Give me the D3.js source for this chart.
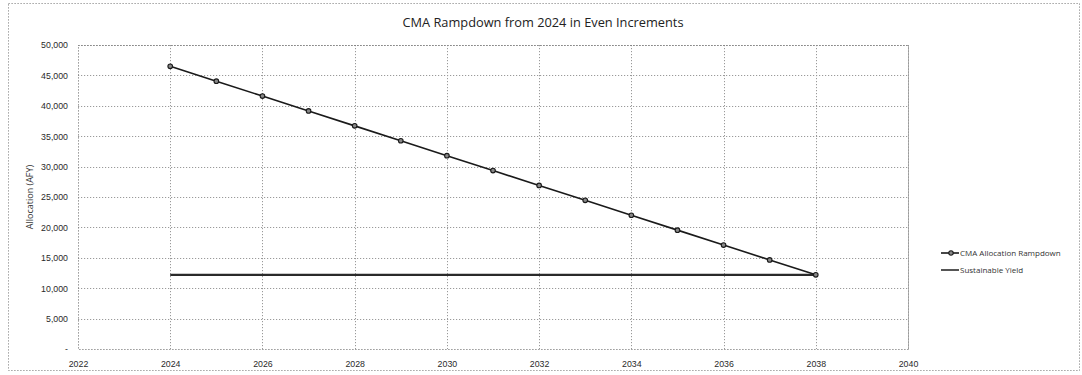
<!DOCTYPE html>
<html>
<head>
<meta charset="utf-8">
<script src="https://cdn.jsdelivr.net/npm/d3@7"></script>
<style>
  html, body { margin: 0; padding: 0; background: #fff; }
  svg { display: block; font-family: "Open Sans", "Liberation Sans", sans-serif; }
</style>
</head>
<body>
<svg id="chart" width="1082" height="375"></svg>
<script>
// Rampdown years and allocations (AFY)
const years = [2024, 2025, 2026, 2027, 2028, 2029, 2030, 2031, 2032, 2033, 2034, 2035, 2036, 2037, 2038];
const rampdown = [46500, 44050, 41600, 39150, 36700, 34250, 31800, 29350, 26900, 24450, 22000, 19550, 17100, 14650, 12200];
// Sustainable yield held flat over the same span
const yieldYears = [2024, 2038];
const sustainableYield = [12200, 12200];

const xTicks = [2022, 2024, 2026, 2028, 2030, 2032, 2034, 2036, 2038, 2040];
const yTicks = [0, 5000, 10000, 15000, 20000, 25000, 30000, 35000, 40000, 45000, 50000];
const seriesNames = ["CMA Allocation Rampdown", "Sustainable Yield"];
const titleText = "CMA Rampdown from 2024 in Even Increments";
const yTitle = "Allocation (AFY)";

const svg = d3.select("#chart");
const plot = { left: 78, right: 908, top: 45, bottom: 349 };

const x = d3.scaleLinear().domain([2022, 2040]).range([plot.left, plot.right]);
const y = d3.scaleLinear().domain([0, 50000]).range([plot.bottom, plot.top]);

const dotted = "1.2,1.8";
const gridColor = "#9a9a9a";

// outer chart frame
svg.append("rect")
  .attr("x", 8.5).attr("y", 3.5).attr("width", 1071).attr("height", 367)
  .attr("fill", "none").attr("stroke", "#8a8a8a").attr("stroke-dasharray", dotted);

// gridlines
svg.append("g").selectAll("line").data(yTicks.slice(1)).join("line")
  .attr("x1", plot.left).attr("x2", plot.right)
  .attr("y1", d => Math.round(y(d)) + 0.5).attr("y2", d => Math.round(y(d)) + 0.5)
  .attr("stroke", gridColor).attr("stroke-dasharray", dotted);
svg.append("g").selectAll("line").data(xTicks.slice(1)).join("line")
  .attr("y1", plot.top).attr("y2", plot.bottom)
  .attr("x1", d => Math.round(x(d)) + 0.5).attr("x2", d => Math.round(x(d)) + 0.5)
  .attr("stroke", gridColor).attr("stroke-dasharray", dotted);

// plot frame
svg.append("rect")
  .attr("x", plot.left + 0.5).attr("y", plot.top + 0.5)
  .attr("width", plot.right - plot.left).attr("height", plot.bottom - plot.top)
  .attr("fill", "none").attr("stroke", "#7a7a7a").attr("stroke-dasharray", dotted);

// axes
const fmt = d3.format(",");
const yAxis = d3.axisLeft(y).tickValues(yTicks)
  .tickFormat(d => d === 0 ? "-" : fmt(d)).tickSize(0).tickPadding(10);
svg.append("g").attr("transform", `translate(${plot.left},0)`).call(yAxis)
  .call(g => g.select(".domain").remove())
  .selectAll("text").attr("font-size", 8.8).attr("fill", "#2a2a2a");

const xAxis = d3.axisBottom(x).tickValues(xTicks).tickFormat(d3.format("d")).tickSize(0).tickPadding(12);
svg.append("g").attr("transform", `translate(0,${plot.bottom})`).call(xAxis)
  .call(g => g.select(".domain").remove())
  .selectAll("text").attr("font-size", 8.8).attr("fill", "#2a2a2a");

// titles
svg.append("text").attr("x", 543).attr("y", 27).attr("text-anchor", "middle")
  .attr("font-size", 12.8).attr("fill", "#222").text(titleText);
svg.append("text").attr("transform", `translate(33,${(plot.top + plot.bottom) / 2}) rotate(-90)`)
  .attr("text-anchor", "middle").attr("font-size", 9).attr("fill", "#333").text(yTitle);

// sustainable yield line
const yieldLine = d3.line().x((d, i) => x(yieldYears[i])).y(d => y(d));
svg.append("path").datum(sustainableYield).attr("d", yieldLine)
  .attr("fill", "none").attr("stroke", "#2a2a2a").attr("stroke-width", 2.2);

// rampdown line with markers
const rampLine = d3.line().x((d, i) => x(years[i])).y(d => y(d));
svg.append("path").datum(rampdown).attr("d", rampLine)
  .attr("fill", "none").attr("stroke", "#1a1a1a").attr("stroke-width", 1.6);
svg.append("g").selectAll("circle").data(rampdown).join("circle")
  .attr("cx", (d, i) => x(years[i])).attr("cy", d => y(d)).attr("r", 2.3)
  .attr("fill", "#888").attr("stroke", "#1a1a1a").attr("stroke-width", 1.1);

// legend
const legend = svg.append("g").attr("transform", "translate(941,253)");
legend.append("line").attr("x1", 0).attr("x2", 18).attr("y1", 0).attr("y2", 0)
  .attr("stroke", "#1a1a1a").attr("stroke-width", 1.6);
legend.append("circle").attr("cx", 10).attr("cy", 0).attr("r", 2.2)
  .attr("fill", "#888").attr("stroke", "#1a1a1a").attr("stroke-width", 1.1);
legend.append("text").attr("x", 19).attr("y", 3).attr("font-size", 8).attr("fill", "#333").text(seriesNames[0]);
legend.append("line").attr("x1", 0).attr("x2", 18).attr("y1", 17).attr("y2", 17)
  .attr("stroke", "#2a2a2a").attr("stroke-width", 1.6);
legend.append("text").attr("x", 19).attr("y", 20).attr("font-size", 8).attr("fill", "#333").text(seriesNames[1]);
</script>
</body>
</html>
